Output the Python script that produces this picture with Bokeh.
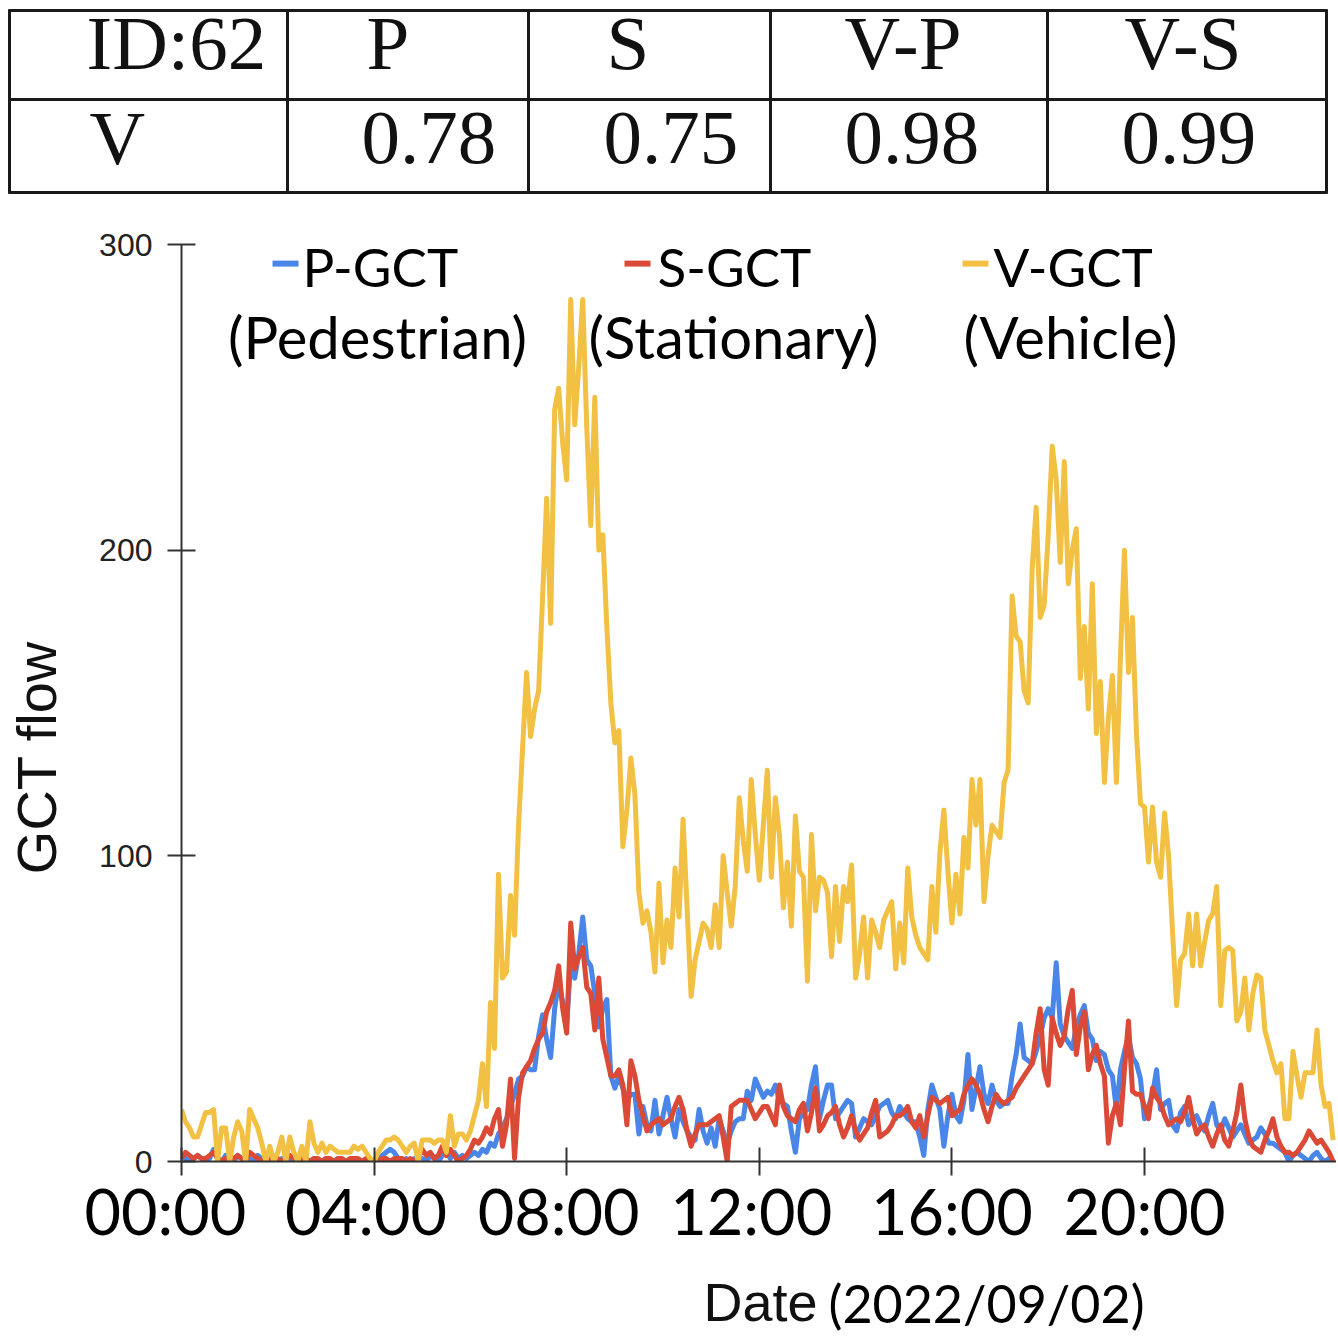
import math
from bokeh.plotting import figure
from bokeh.models import Range1d, FixedTicker
from bokeh.layouts import column
from bokeh.embed import file_html
from bokeh.resources import INLINE
from bokeh.core.properties import value

# ---------------- data ----------------
table_header = ["ID:62", "P", "S", "V-P", "V-S"]
table_values = ["V", "0.78", "0.75", "0.98", "0.99"]

tick_hours = [0, 4, 8, 12, 16, 20]
tick_labels = ["00:00", "04:00", "08:00", "12:00", "16:00", "20:00"]
y_ticks = [0, 100, 200, 300]

series_names = ["P-GCT", "S-GCT", "V-GCT"]
series_sub = ["(Pedestrian)", "(Stationary)", "(Vehicle)"]

y_title = "GCT flow"
x_title = ["Date", "(2022/09/02)"]

# GCT flow every 5 minutes, 00:00 .. 23:55
p_gct = [
    2, 1, 0, 1, 2, 1, 0, 1, 4, 1, 0, 2,
    1, 0, 2, 1, 0, 1, 0, 2, 1, 0, 0, 1,
    0, 1, 0, 0, 1, 0, 2, 0, 0, 1, 0, 0,
    1, 0, 0, 1, 0, 0, 0, 1, 0, 0, 0, 0,
    0, 1, 2, 3, 4, 3, 1, 0, 1, 0, 1, 0,
    1, 0, 2, 1, 0, 2, 3, 1, 3, 1, 2, 1,
    2, 3, 2, 4, 3, 6, 5, 9, 11, 14, 18, 22,
    27, 28, 31, 30, 30, 41, 48, 40, 34, 50, 59, 52,
    45, 65, 60, 68, 80, 66, 64, 55, 44, 50, 53, 28,
    24, 28, 24, 20, 22, 22, 9, 18, 12, 10, 20, 9,
    15, 21, 14, 8, 17, 13, 10, 8, 7, 17, 10, 6,
    11, 5, 14, 10, 6, 10, 13, 14, 14, 23, 20, 27,
    24, 21, 23, 22, 25, 20, 19, 18, 10, 3, 14, 16,
    17, 25, 31, 14, 20, 25, 25, 14, 16, 18, 20, 19,
    8, 11, 14, 13, 12, 15, 18, 19, 20, 16, 14, 18,
    16, 14, 13, 13, 8, 2, 17, 25, 21, 17, 5, 15,
    22, 15, 13, 20, 35, 17, 24, 31, 22, 19, 25, 20,
    18, 19, 19, 28, 35, 45, 34, 33, 32, 36, 41, 47,
    50, 47, 65, 45, 41, 39, 37, 44, 48, 51, 42, 40,
    33, 36, 35, 30, 28, 17, 30, 36, 41, 34, 32, 27,
    14, 18, 22, 30, 17, 19, 20, 12, 10, 16, 18, 12,
    14, 15, 12, 10, 15, 19, 12, 10, 14, 11, 8, 10,
    12, 9, 6, 7, 8, 11, 9, 6, 6, 5, 4, 3,
    0, 2, 3, 2, 1, 0, 2, 3, 1, 0, 1, 0,
]

s_gct = [
    1, 3, 2, 1, 2, 1, 1, 2, 3, 1, 0, 1,
    0, 1, 2, 1, 0, 3, 2, 1, 0, 1, 1, 0,
    1, 0, 1, 2, 1, 0, 1, 1, 0, 1, 1, 0,
    1, 1, 0, 1, 1, 0, 1, 1, 1, 0, 1, 0,
    0, 0, 1, 1, 0, 1, 1, 1, 0, 1, 0, 1,
    4, 2, 3, 1, 2, 5, 2, 4, 2, 0, 1, 2,
    4, 7, 6, 8, 11, 9, 14, 17, 5, 12, 27, 1,
    21, 29, 31, 33, 37, 40, 42, 49, 52, 56, 64, 50,
    42, 78, 63, 67, 70, 57, 55, 43, 60, 40, 34, 28,
    28, 30, 25, 12, 33, 28, 20, 15, 10, 12, 13, 14,
    12, 13, 14, 18, 21, 17, 10, 5, 9, 12, 12, 12,
    13, 14, 15, 8, 0, 18, 19, 20, 20, 20, 17, 14,
    16, 18, 18, 15, 12, 25, 18, 15, 14, 13, 17, 19,
    10, 16, 24, 10, 12, 15, 16, 18, 12, 8, 11, 15,
    10, 7, 9, 11, 16, 20, 8, 9, 10, 12, 15, 15,
    16, 18, 13, 11, 15, 8, 15, 21, 20, 19, 20, 21,
    15, 16, 17, 22, 25, 27, 25, 22, 17, 13, 18, 22,
    20, 19, 20, 21, 24, 26, 28, 30, 32, 42, 50, 30,
    25, 47, 42, 38, 41, 50, 56, 35, 44, 49, 30, 35,
    38, 32, 28, 6, 15, 19, 12, 30, 46, 23, 22, 22,
    18, 14, 24, 21, 19, 15, 12, 13, 14, 13, 16, 21,
    14, 9, 11, 12, 8, 5, 9, 12, 7, 5, 10, 16,
    25, 14, 8, 5, 4, 3, 7, 10, 14, 8, 5, 3,
    3, 2, 3, 5, 7, 10, 8, 6, 7, 5, 3, 0,
]

v_gct = [
    17, 13, 11, 8, 8, 12, 16, 16, 17, 0, 11, 11,
    0, 8, 13, 10, 0, 17, 14, 11, 6, 0, 5, 0,
    3, 8, 0, 8, 3, 0, 5, 0, 13, 6, 3, 6,
    3, 5, 4, 3, 3, 3, 3, 5, 4, 5, 3, 1,
    0, 3, 5, 7, 7, 8, 7, 5, 3, 5, 6, 0,
    7, 7, 7, 6, 7, 7, 3, 15, 5, 9, 9, 7,
    10, 15, 20, 32, 18, 52, 37, 94, 60, 62, 87, 74,
    110, 135, 160, 139, 148, 154, 185, 217, 176, 246, 253, 235,
    223, 282, 241, 260, 282, 240, 208, 250, 200, 205, 175, 150,
    137, 141, 103, 115, 132, 120, 88, 78, 82, 75, 62, 91,
    65, 79, 70, 96, 80, 112, 83, 54, 66, 72, 78, 76,
    70, 84, 70, 100, 88, 77, 90, 119, 105, 95, 125, 107,
    92, 110, 128, 93, 119, 107, 83, 98, 77, 113, 95, 93,
    59, 107, 82, 93, 92, 88, 67, 90, 72, 90, 85, 97,
    60, 68, 80, 60, 79, 75, 70, 79, 82, 85, 63, 78,
    65, 96, 80, 74, 70, 68, 66, 90, 75, 101, 115, 95,
    78, 94, 81, 106, 96, 125, 110, 125, 85, 100, 110, 108,
    106, 124, 128, 185, 172, 170, 154, 150, 194, 214, 178, 182,
    205, 234, 223, 196, 229, 189, 200, 207, 158, 175, 148, 189,
    140, 157, 124, 145, 159, 124, 165, 200, 160, 178, 140, 117,
    116, 98, 116, 98, 93, 114, 100, 75, 51, 66, 68, 81,
    64, 81, 64, 72, 79, 81, 90, 51, 69, 70, 69, 46,
    49, 60, 43, 55, 61, 60, 43, 38, 33, 29, 32, 14,
    14, 36, 28, 21, 29, 29, 29, 43, 25, 18, 19, 7,
]

hours = [i * 5 / 60 for i in range(len(v_gct))]

# ---------------- style / layout ----------------
BLUE = "#4a86e8"
RED = "#db4a37"
YELLOW = "#f2c144"
colors = [BLUE, RED, YELLOW]
W = 1336
TABLE_H = 200
CHART_H = 1070
DATE_H = 64
BASE_SHIFT = 0.38  # rendered baseline lies this many em below the given y
NBSP = "\u00a0"


def base_y(baseline, size):
    return baseline - BASE_SHIFT * size


# ---------------- table ----------------
tf = figure(width=W, height=TABLE_H, x_range=Range1d(0, W), y_range=Range1d(TABLE_H, 0),
            toolbar_location=None, output_backend="svg", x_axis_type=None,
            y_axis_type=None, min_border=0, title=None, frame_align=False)
tf.grid.visible = False
tf.outline_line_color = None

hy = [10, 99, 192]
tf.segment(x0=[8] * 3, y0=hy, x1=[1327] * 3, y1=hy, line_color="#1a1a1a", line_width=3)
vx = [9, 287, 528, 770, 1047, 1326]
tf.segment(x0=vx, y0=[9] * 6, x1=vx, y1=[193] * 6, line_color="#1a1a1a", line_width=3)

head_x = [86, 366, 606, 844, 1124]
row_x = [89, 361, 603, 844, 1121]
TS = 77
tf.text(x=head_x, y=[base_y(72, TS)] * 5, text=table_header, text_font=value("Liberation Serif"),
        text_font_size=f"{TS}px", text_baseline="alphabetic", text_align="left", text_color="#111111")
tf.text(x=row_x, y=[base_y(167, TS)] * 5, text=table_values, text_font=value("Liberation Serif"),
        text_font_size=f"{TS}px", text_baseline="alphabetic", text_align="left", text_color="#111111")

# ---------------- chart ----------------
PX_PER_H = 48.15
PX_PER_U = 3.057
X0, Y0 = 181, 1161
x_end = (W - X0) / PX_PER_H

cf = figure(width=W, height=CHART_H, x_range=Range1d(0, x_end), y_range=Range1d(0, 300),
            toolbar_location=None, output_backend="svg", title=None, frame_align=False,
            min_border_left=X0, min_border_right=0, min_border_top=244 - TABLE_H,
            min_border_bottom=TABLE_H + CHART_H - Y0)
cf.grid.visible = False
cf.outline_line_color = None

for ax in (cf.xaxis, cf.yaxis):
    ax.axis_line_color = "#333333"
    ax.axis_line_width = 2
    ax.major_tick_line_color = "#333333"
    ax.major_tick_line_width = 2
    ax.minor_tick_line_color = None
    ax.major_tick_in = 14
    ax.major_tick_out = 14

cf.yaxis.ticker = FixedTicker(ticks=y_ticks)
cf.yaxis.major_label_text_font = "Liberation Sans"
cf.yaxis.major_label_text_font_size = "32px"
cf.yaxis.major_label_text_color = "#222222"
cf.yaxis.major_label_standoff = 15
cf.yaxis.axis_label = y_title + NBSP * 7
cf.yaxis.axis_label_text_font = "Liberation Sans"
cf.yaxis.axis_label_text_font_size = "56px"
cf.yaxis.axis_label_text_font_style = "normal"
cf.yaxis.axis_label_text_color = "#111111"
cf.yaxis.axis_label_standoff = 28

# small per-label padding so each label sits where the reference puts it
label_pad = [2, 1, 1, 1, 0, 0]
cf.xaxis.ticker = FixedTicker(ticks=tick_hours)
cf.xaxis.major_label_overrides = {h: l + NBSP * n for h, l, n in zip(tick_hours, tick_labels, label_pad)}
cf.xaxis.major_label_text_font = "Lato"
cf.xaxis.major_label_text_font_size = "63px"
cf.xaxis.major_label_text_color = "#000000"
cf.xaxis.major_label_standoff = -3

for vals, c in zip([p_gct, s_gct, v_gct], colors):
    cf.line(hours, vals, line_color=c, line_width=5, line_join="round")


def dx(px):
    return (px - X0) / PX_PER_H


def dy(py):
    return (Y0 - py) / PX_PER_U


# legend
sw_left = [272, 624, 962]
name_left = [302, 657, 993]
sub_center = [377, 733, 1070]
NS, SS = 53, 58
cf.segment(x0=[dx(a) for a in sw_left], y0=[dy(263)] * 3,
           x1=[dx(a + 26) for a in sw_left], y1=[dy(263)] * 3,
           line_color=colors, line_width=6)
cf.text(x=[dx(a) for a in name_left], y=[dy(base_y(286, NS))] * 3, text=series_names,
        text_font=value("Lato"), text_font_size=f"{NS}px", text_baseline="alphabetic",
        text_align="left", text_color="#000000")
cf.text(x=[dx(a) for a in sub_center], y=[dy(base_y(358, SS))] * 3, text=series_sub,
        text_font=value("Lato"), text_font_size=f"{SS}px", text_baseline="alphabetic",
        text_align="center", text_color="#000000")

# ---------------- x title ----------------
df = figure(width=W, height=DATE_H, x_range=Range1d(0, W), y_range=Range1d(DATE_H, 0),
            toolbar_location=None, output_backend="svg", x_axis_type=None,
            y_axis_type=None, min_border=0, title=None, frame_align=False)
df.grid.visible = False
df.outline_line_color = None
top = TABLE_H + CHART_H
df.text(x=[703], y=[base_y(1322, 54) - top], text=[x_title[0]], text_font=value("Liberation Sans"),
        text_font_size="54px", text_baseline="alphabetic", text_align="left", text_color="#111111")
df.text(x=[828], y=[base_y(1322, 52) - top], text=[x_title[1]], text_font=value("Lato"),
        text_font_size="52px", text_baseline="alphabetic", text_align="left", text_color="#000000")

layout = column(tf, cf, df, spacing=0)
open("out.html", "w").write(file_html(layout, INLINE))
